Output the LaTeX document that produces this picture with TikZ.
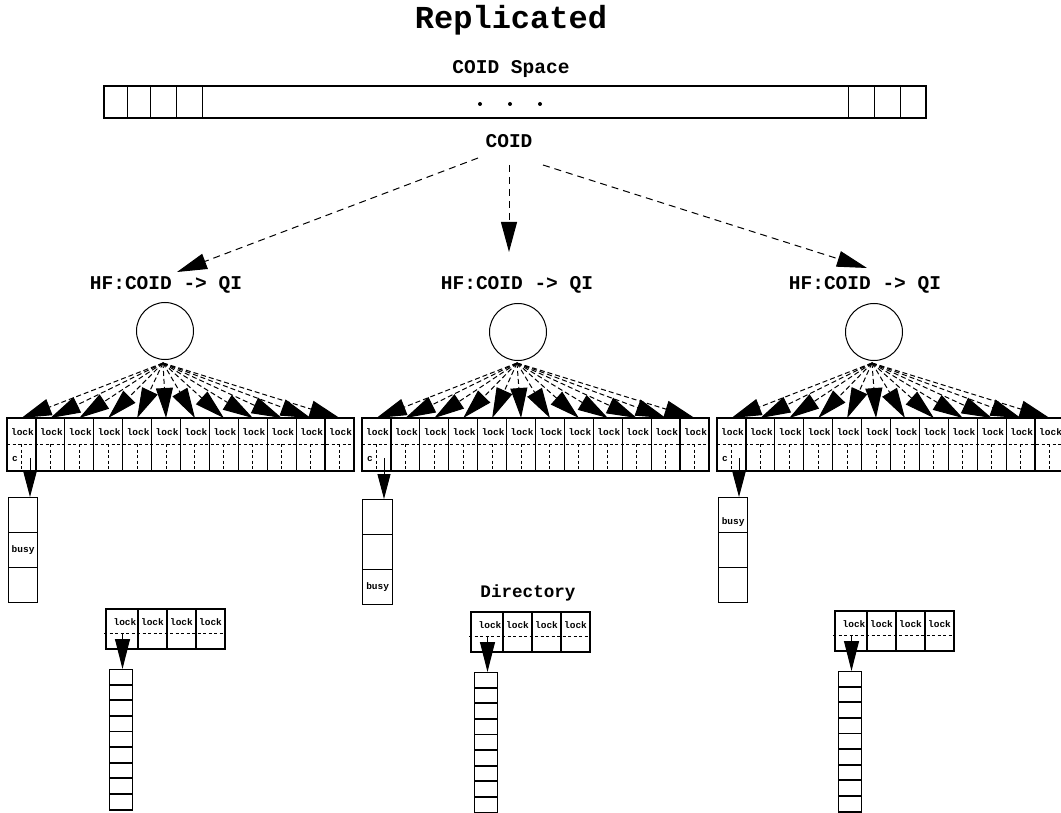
\documentclass[tikz,border=0pt]{standalone}
\usepackage{fontspec}
\setmonofont{Liberation Mono}
\usetikzlibrary{arrows.meta}
\tikzset{
  lbl/.style={font=\ttfamily\bfseries\fontsize{19.5}{20}\selectfont, inner sep=0pt},
  ttl/.style={font=\ttfamily\bfseries\fontsize{32}{34}\selectfont, inner sep=0pt},
  dirl/.style={font=\ttfamily\bfseries\fontsize{17.6}{18}\selectfont, inner sep=0pt},
  small/.style={font=\ttfamily\bfseries\fontsize{9.5}{10}\selectfont, inner sep=0pt},
  cellbox/.style={draw, line width=1.3pt, inner sep=0pt, minimum width=29pt, minimum height=35pt, anchor=north west},
  tallbox/.style={draw, line width=1.2pt, inner sep=0pt, minimum width=23pt, minimum height=140.4pt, anchor=north west},
  hashc/.style={draw, circle, line width=1pt, minimum size=57pt, inner sep=0pt},
  dsh/.style={dash pattern=on 3pt off 2.5pt, line width=1pt},
  bigarrow/.style={-{Triangle[length=30pt,width=16pt]}, dash pattern=on 7pt off 5pt, line width=1pt},
  fanarrow/.style={-{Triangle[length=30pt,width=17pt]}, dash pattern=on 5pt off 3pt, line width=1pt},
  ptr/.style={-{Triangle[length=25pt,width=13pt]}, line width=1pt},
  ptrb/.style={-{Triangle[length=30pt,width=15pt]}, line width=1pt},
}
\begin{document}
\begin{tikzpicture}[x=1pt,y=-1pt]
\useasboundingbox (0,0) rectangle (1061,813);

% title and COID space
\node[ttl, anchor=base] (title) at (511,29) {Replicated};
\node[lbl, anchor=base] (space) at (511,74) {COID Space};
\draw[line width=1.2pt] (104,86) rectangle (926,118);
\foreach \x in {127,150,176,202,848,874,900} \draw[line width=1pt] (\x,86) -- (\x,118);
\foreach \x in {480,510,540} \fill (\x,104) circle (2pt);
\node[lbl, anchor=base] (coid) at (509,148) {COID};

% arrows from COID
\coordinate (s1) at (478,158);
\coordinate (s2) at (509,165);
\coordinate (s3) at (543,165);
\coordinate (e1) at (177,272);
\coordinate (e2) at (509,252);
\coordinate (e3) at (867,268);
\draw[bigarrow] (s1) -- (e1);
\draw[bigarrow] (s2) -- (e2);
\draw[bigarrow] (s3) -- (e3);

% hash function labels and circles
\node[lbl, anchor=base] (hfL) at (166,290) {HF:COID -> QI};
\node[lbl, anchor=base] (hfM) at (517,290) {HF:COID -> QI};
\node[lbl, anchor=base] (hfR) at (865,290) {HF:COID -> QI};
\node[hashc] (cL) at (165,331) {};
\node[hashc] (cM) at (518,332) {};
\node[hashc] (cR) at (874,332) {};
\coordinate (fL) at (163,363);
\coordinate (fM) at (517,363);
\coordinate (fR) at (872,363);

% 12-cell lock arrays
\foreach \a/\x in {L/7, M/362, R/717} {
  \draw[line width=1.3pt] (\x,418) rectangle ++(347,53);
  \foreach \i in {1,...,11} \draw[line width=1.3pt] (\x+\i*28.92,418) -- ++(0,53);
  \draw[dsh] (\x,444) -- ++(347,0);
  \foreach \i in {0,...,11} {
    \draw[dsh] (\x+\i*28.92+14.46,444) -- ++(0,27);
    \node[small] (lock\a\i) at (\x+\i*28.92+15.5,432) {lock};
    \coordinate (t\a\i) at (\x+\i*28.92+14.46,418);
    \draw[fanarrow] (f\a) -- (t\a\i);
  }
  \node[small] (c\a) at (\x+8,459) {c};
}

% stacks of three under first cell
\node[cellbox] (sL1) at (8,497) {};
\node[cellbox] (sL2) at (8,532) {};
\node[cellbox] (sL3) at (8,567) {};
\node[cellbox, minimum width=30pt] (sM1) at (362,499) {};
\node[cellbox, minimum width=30pt] (sM2) at (362,534) {};
\node[cellbox, minimum width=30pt] (sM3) at (362,569) {};
\node[cellbox] (sR1) at (718,497) {};
\node[cellbox] (sR2) at (718,532) {};
\node[cellbox] (sR3) at (718,567) {};
\node[small] (bL) at (sL2.center) {busy};
\node[small] (bM) at (sM3.center) {busy};
\node[small] (bR) at ([yshift=-7pt]sR1.center) {busy};
\coordinate (pL) at (30,458);
\coordinate (pM) at (384,458);
\coordinate (pR) at (739,458);
\draw[ptr] (pL) -- (pL |- sL1.north);
\draw[ptr] (pM) -- (pM |- sM1.north);
\draw[ptr] (pR) -- (pR |- sR1.north);

% directory label
\node[dirl, anchor=base] (dir) at (528,597) {Directory};

% small 4-cell lock arrays with tall stacks
\foreach \a/\x/\t in {L/106/609, M/471/612, R/835/611} {
  \draw[line width=1.3pt] (\x,\t) rectangle ++(119,40);
  \foreach \d in {32,61,90} \draw[line width=1.3pt] (\x+\d,\t) -- ++(0,40);
  \draw[dsh] (\x-2,\t+24) -- (\x+119,\t+24);
  \node[small] (sa\a0) at (\x+19,\t+13.5) {lock};
  \node[small] (sa\a1) at (\x+46.5,\t+13.5) {lock};
  \node[small] (sa\a2) at (\x+75.5,\t+13.5) {lock};
  \node[small] (sa\a3) at (\x+104.5,\t+13.5) {lock};
  \node[tallbox] (ts\a) at (\x+3,\t+60) {};
  \foreach \k in {1,...,8}
    \draw[line width=1.8pt] ([yshift=-\k*15.6pt]ts\a.north west) -- ([yshift=-\k*15.6pt]ts\a.north east);
  \coordinate (q\a) at (\x+16.5,\t+25);
  \draw[ptrb] (q\a) -- (q\a |- ts\a.north);
}
\end{tikzpicture}
\end{document}
